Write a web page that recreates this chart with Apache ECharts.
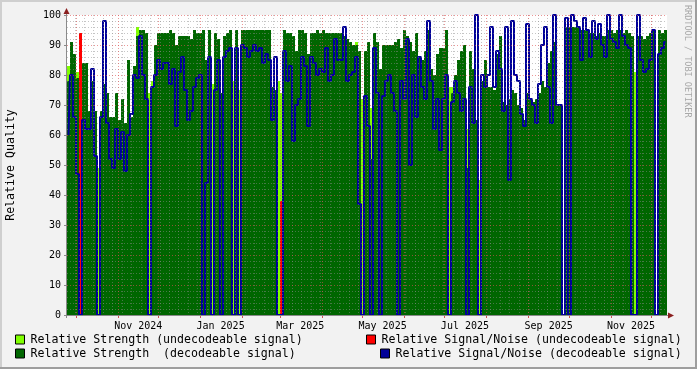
<!DOCTYPE html>
<html><head><meta charset="utf-8">
<script src="https://cdn.jsdelivr.net/npm/echarts@6/dist/echarts.min.js"></script>
<style>html,body{margin:0;padding:0;background:#f2f2f2}#c{width:697px;height:369px}</style>
</head><body><div id="c"></div>
<script>
// Relative Strength (decodeable signal), one value per sample (~2.2 days)
const strengthDecodeable = [
78,91,87,79,0,84,84,68,78,68, 0,68,77,74,66,66,74,65,72,64,
85,66,83,93,95,95,94,0,76,90, 94,94,94,94,95,94,90,93,93,93,
93,92,95,94,94,95,85,95,0,94, 92,74,93,94,95,0,95,0,95,95,
95,95,95,95,95,95,95,95,76,75, 0,0,95,94,94,93,88,95,95,94,
87,94,94,95,94,95,94,94,94,94, 94,94,93,92,91,90,90,88,0,88,
91,52,94,91,82,90,90,90,90,91, 92,89,95,93,91,88,94,86,85,88,
95,82,80,87,89,89,95,0,74,80, 85,88,90,49,88,82,65,0,78,85,
76,76,75,87,93,71,70,72,75,74, 70,69,65,74,72,71,72,74,78,76,
84,88,91,70,70,0,96,96,96,96, 96,95,95,95,94,94,93,94,93,93,
95,95,94,95,95,94,95,94,93,0, 93,93,92,93,94,95,0,95,94,95
];
// Relative Strength (undecodeable signal)
const strengthUndecodeable = [
83,0,0,81,75,0,0,0,0,0, 49,0,0,0,0,0,0,0,0,0,
0,0,0,96,0,0,0,74,78,0, 0,0,0,0,0,0,0,0,0,0,
0,0,0,0,0,0,0,0,77,0, 0,0,0,0,0,78,0,75,0,0,
0,0,0,0,0,0,0,0,0,0, 78,74,0,0,0,0,0,0,0,0,
0,0,0,0,0,0,0,0,0,0, 0,0,0,0,0,0,91,0,72,0,
0,69,0,0,0,0,0,0,0,0, 0,0,0,0,0,0,0,0,0,0,
0,0,0,0,0,0,0,76,76,0, 0,0,0,62,0,0,0,45,0,0,
0,0,0,0,0,0,0,0,0,0, 0,0,0,0,0,0,0,0,0,0,
0,0,0,0,0,0,0,0,0,0, 0,0,0,0,0,0,0,0,0,0,
0,0,0,0,0,0,0,0,0,81, 0,0,0,0,0,0,0,0,0,0
];
// Relative Signal/Noise (decodeable signal)
const snrDecodeable = [
60,80,66,47,0,65,62,62,82,53, 0,66,98,64,52,49,62,52,61,48,
60,67,80,79,93,80,72,0,76,80, 85,82,84,84,77,82,63,81,86,75,
65,68,76,79,80,0,44,86,0,75, 85,0,86,88,89,0,89,0,90,89,
86,88,90,88,89,84,87,85,65,86, 0,0,88,78,83,58,70,72,86,83,
63,86,84,80,82,81,89,78,80,92, 85,85,96,78,80,81,86,37,0,73,
63,0,89,74,0,73,78,80,74,68, 0,78,72,92,50,80,66,86,76,72,
98,78,62,72,55,72,80,0,71,78, 74,68,72,0,76,64,100,0,80,76,
80,96,76,88,82,68,96,45,98,80, 78,67,63,97,72,70,64,77,90,96,
76,64,100,70,70,0,99,0,100,98, 96,85,99,95,86,98,92,97,90,86,
100,92,91,89,100,93,90,89,0,0, 100,85,81,82,85,95,0,87,89,91
];
// Relative Signal/Noise (undecodeable signal)
const snrUndecodeable = new Array(200).fill(null);
const snrUndecodeablePoints = [[4, 94], [71, 38]];
snrUndecodeablePoints.forEach(p => { snrUndecodeable[p[0]] = p[1]; });

const monthLabels = ['Nov 2024','Jan 2025','Mar 2025','May 2025','Jul 2025','Sep 2025','Nov 2025'];
const monthLabelDates = ['2024-11-16','2025-01-16','2025-03-16','2025-05-16','2025-07-16','2025-09-16','2025-11-16'];
const monthGridDates = ['2024-10-01','2024-11-01','2024-12-01','2025-01-01','2025-02-01','2025-03-01','2025-04-01',
  '2025-05-01','2025-06-01','2025-07-01','2025-08-01','2025-09-01','2025-10-01','2025-11-01','2025-12-01'];
const firstWeekLine = '2024-09-30';

const DAY = 86400000;
const START = Date.UTC(2024, 8, 24, 6);
const SPAN = 444.4;
const toDay = s => (Date.parse(s + 'T00:00:00Z') - START) / DAY;
const gridDays = monthGridDates.map(toDay);
const labelDays = monthLabelDates.map(toDay);
const weekDays = [];
for (let d = toDay(firstWeekLine); d < SPAN; d += 7) weekDays.push(d);
const cats = strengthDecodeable.map((_, i) => String(i));

const FONT = '"DejaVu Sans Mono", monospace';
const MGRID = 'rgba(222,80,80,0.6)';
const GRID = 'rgba(140,140,140,0.5)';
const NAMES = ['Relative Strength (undecodeable signal)', 'Relative Strength  (decodeable signal)',
  'Relative Signal/Noise (undecodeable signal)', 'Relative Signal/Noise (decodeable signal)'];

function legendAt(name, left, top) {
  return { data: [name], left: left, top: top, padding: 0, icon: 'rect', itemWidth: 9, itemHeight: 9,
    itemStyle: { borderColor: '#000', borderWidth: 1 }, selectedMode: false,
    textStyle: { fontFamily: FONT, fontSize: 11.6, color: '#000', padding: [0, 0, 0, 1] } };
}

const chart = echarts.init(document.getElementById('c'), null, { renderer: 'canvas' });
chart.setOption({
  animation: false,
  backgroundColor: '#f2f2f2',
  grid: { left: 67, top: 15, width: 600, height: 300, show: true, backgroundColor: '#ffffff', borderWidth: 0,
    containLabel: false, outerBoundsMode: 'none' },
  xAxis: [
    { type: 'category', data: cats, show: false, boundaryGap: true },
    { type: 'value', min: 0, max: SPAN, position: 'bottom', z: 6,
      axisLine: { show: false },
      axisTick: { show: true, customValues: gridDays, length: 3, lineStyle: { color: '#d05050' } },
      axisLabel: { customValues: labelDays, margin: 6, fontFamily: FONT, fontSize: 10, color: '#000',
        formatter: v => { let k = 0, b = 1e9; labelDays.forEach((d, i) => { if (Math.abs(d - v) < b) { b = Math.abs(d - v); k = i; } }); return monthLabels[k]; } },
      splitLine: { show: true, lineStyle: { color: MGRID, type: [1, 2], width: 1 } } },
    { type: 'value', min: 0, max: SPAN, position: 'bottom', z: 5,
      axisLine: { show: false }, axisLabel: { show: false },
      axisTick: { show: false, customValues: weekDays },
      splitLine: { show: true, lineStyle: { color: GRID, type: [1, 2], width: 1 } } }
  ],
  yAxis: [
    { type: 'value', min: 0, max: 100, interval: 10, z: 6,
      name: 'Relative Quality', nameLocation: 'middle', nameGap: 50, nameRotate: 90,
      nameTextStyle: { fontFamily: FONT, fontSize: 11.6, color: '#000' },
      axisLine: { show: false },
      axisTick: { show: true, length: 3, lineStyle: { color: '#888' } },
      axisLabel: { margin: 6, fontFamily: FONT, fontSize: 10, color: '#000' },
      minorTick: { show: false, splitNumber: 5 },
      splitLine: { show: true, lineStyle: { color: MGRID, type: [1, 2], width: 1 } },
      minorSplitLine: { show: true, lineStyle: { color: GRID, type: [1, 2], width: 1 } } }
  ],
  legend: [
    legendAt(NAMES[0], 15, 333.5),
    legendAt(NAMES[1], 15, 347.5),
    legendAt(NAMES[2], 366, 333.5),
    legendAt(NAMES[3], 380, 347.5)
  ],
  series: [
    { name: NAMES[0], type: 'bar', xAxisIndex: 0, yAxisIndex: 0, data: strengthUndecodeable,
      barWidth: '100%', barGap: '-100%', barCategoryGap: '0%', itemStyle: { color: '#80ff00' }, silent: true },
    { name: NAMES[1], type: 'bar', xAxisIndex: 0, yAxisIndex: 0, data: strengthDecodeable,
      barWidth: '100%', barGap: '-100%', barCategoryGap: '0%', itemStyle: { color: '#006600' }, silent: true },
    { name: NAMES[2], type: 'bar', xAxisIndex: 0, yAxisIndex: 0, data: snrUndecodeable,
      barWidth: '100%', barGap: '-100%', barCategoryGap: '0%', itemStyle: { color: '#ff0000' }, silent: true },
    { name: NAMES[3], type: 'line', xAxisIndex: 0, yAxisIndex: 0, data: snrDecodeable, step: 'middle',
      symbol: 'none', clip: false, itemStyle: { color: '#000099' }, lineStyle: { color: '#000099', width: 2 }, silent: true }
  ],
  graphic: [
    { type: 'rect', shape: { x: 0, y: 0, width: 697, height: 2 }, style: { fill: '#cfcfcf' }, silent: true },
    { type: 'rect', shape: { x: 0, y: 0, width: 2, height: 369 }, style: { fill: '#cfcfcf' }, silent: true },
    { type: 'rect', shape: { x: 0, y: 367, width: 697, height: 2 }, style: { fill: '#9e9e9e' }, silent: true },
    { type: 'rect', shape: { x: 695, y: 0, width: 2, height: 369 }, style: { fill: '#9e9e9e' }, silent: true },
    { type: 'line', z: 20, shape: { x1: 66.5, y1: 318, x2: 66.5, y2: 12 }, style: { stroke: '#8a8a8a', lineWidth: 1 }, silent: true },
    { type: 'line', z: 20, shape: { x1: 64, y1: 315.5, x2: 670, y2: 315.5 }, style: { stroke: '#8a8a8a', lineWidth: 1 }, silent: true },
    { type: 'polygon', z: 21, shape: { points: [[63.5, 14], [66.5, 8], [69.5, 14]] }, style: { fill: '#8b2020' }, silent: true },
    { type: 'polygon', z: 21, shape: { points: [[668, 312.5], [674, 315.5], [668, 318.5]] }, style: { fill: '#8b2020' }, silent: true },
    { type: 'text', x: 692, y: 5, rotation: -Math.PI / 2, silent: true,
      style: { text: 'RRDTOOL / TOBI OETIKER', font: '8.5px "DejaVu Sans Mono"', fill: '#a8a8a8', align: 'left', verticalAlign: 'top' } }
  ]
});
</script></body></html>
